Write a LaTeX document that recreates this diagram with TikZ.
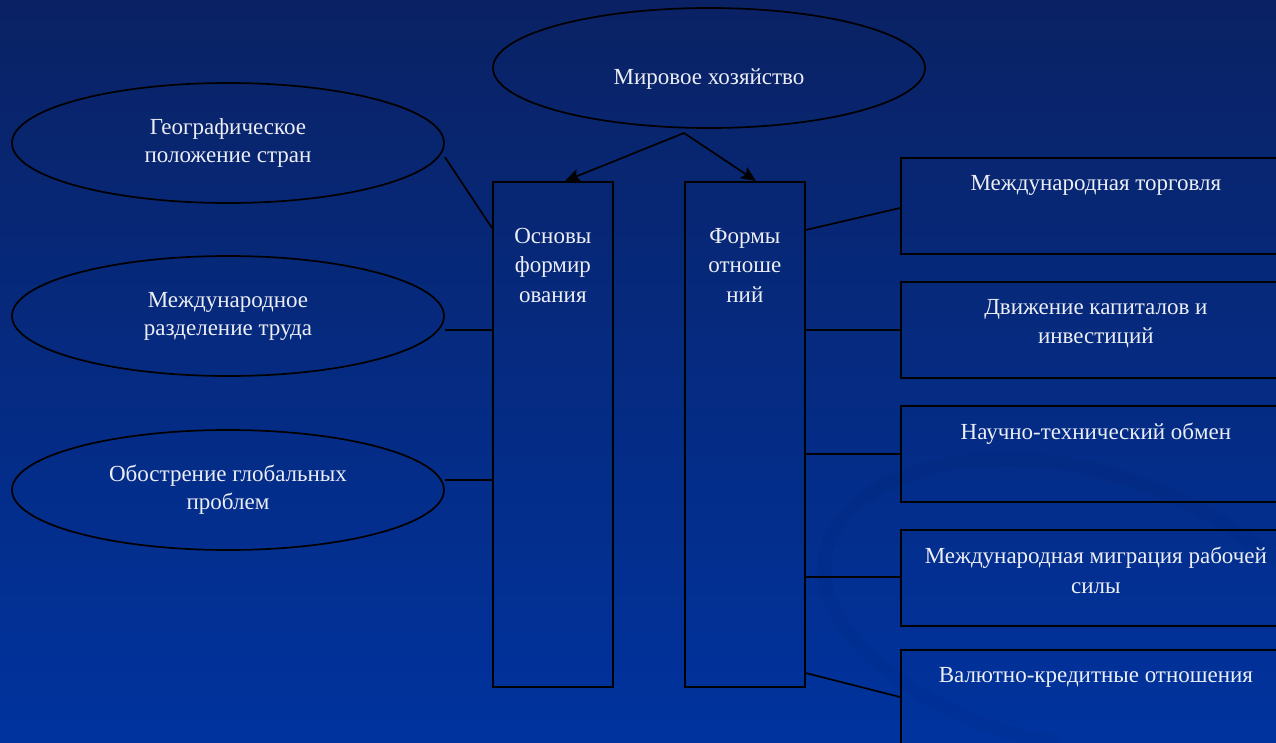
\documentclass[tikz,border=0pt]{standalone}
\usepackage{fontspec}
\setmainfont{Liberation Serif}
\usetikzlibrary{shapes.geometric,arrows.meta}
\definecolor{bgtop}{RGB}{10,34,100}
\definecolor{bgbot}{RGB}{0,51,158}
\definecolor{txt}{RGB}{236,238,245}
\tikzset{
  lw/.style={line width=1.7pt, draw=black},
  ell/.style={ellipse, lw, minimum width=432pt, minimum height=120pt, inner sep=0pt,
    align=center, text=txt, font=\fontsize{23}{28}\selectfont},
  tallbox/.style={rectangle, lw, minimum width=120pt, minimum height=505pt, anchor=north west, inner sep=0pt},
  rbox/.style={rectangle, lw, minimum width=390pt, minimum height=96pt, anchor=north west, inner sep=0pt},
  lab/.style={text=txt, align=center, inner sep=0pt, anchor=north, font=\fontsize{23}{29.5}\selectfont},
  conn/.style={lw},
  arr/.style={lw, -{Stealth[length=15pt,width=13pt,inset=3pt]}}
}
\begin{document}
\begin{tikzpicture}[x=1pt,y=-1pt]
\useasboundingbox (0,0) rectangle (1276,742);
\clip (0,0) rectangle (1276,742);
\shade[top color=bgtop, bottom color=bgbot] (0,0) rectangle (1276,742);
% faint swirl
\draw[line width=14pt, color=black, opacity=0.025] (1276,560) .. controls (1050,380) and (780,470) .. (830,600) .. controls (860,680) and (1000,742) .. (1060,742);
% top ellipse
\node[ell, label={[lab, anchor=center, yshift=-11pt]center:{Мировое хозяйство}}] (world) at (709,68) {};
\coordinate (split) at (684,133);
% left ellipses
\node[ell] (e1) at (228,143) {Географическое\\положение стран};
\node[ell] (e2) at (228,316) {Международное\\разделение труда};
\node[ell] (e3) at (228,490) {Обострение глобальных\\проблем};
% tall boxes
\node[tallbox, label={[lab, yshift=-47pt]north:{Основы\\формир\\ования}}] (b1) at (492,181) {};
\node[tallbox, label={[lab, yshift=-47pt]north:{Формы\\отноше\\ний}}] (b2) at (684,181) {};
% right boxes
\node[rbox, label={[lab, yshift=-18pt]north:{Международная торговля}}] (r1) at (900,157) {};
\node[rbox, label={[lab, yshift=-18pt]north:{Движение капиталов и\\инвестиций}}] (r2) at (900,281) {};
\node[rbox, label={[lab, yshift=-18pt]north:{Научно-технический обмен}}] (r3) at (900,405) {};
\node[rbox, label={[lab, yshift=-18pt]north:{Международная миграция рабочей\\силы}}] (r4) at (900,529) {};
\node[rbox, label={[lab, yshift=-18pt]north:{Валютно-кредитные отношения}}] (r5) at (900,649) {};
% arrows
\draw[arr] (split) -- (b1.north -| 565,181);
\draw[arr] (split) -- (b2.north -| 756,181);
% connectors left
\draw[conn] (e1.east) ++(0,14) -- (b1.west |- 0,228);
\draw[conn] (e2.east |- 0,330) -- (b1.west |- 0,330);
\draw[conn] (e3.east |- 0,480) -- (b1.west |- 0,480);
% connectors right
\draw[conn] (b2.east |- 0,230) -- (r1.west |- 0,208);
\draw[conn] (b2.east |- 0,330) -- (r2.west |- 0,330);
\draw[conn] (b2.east |- 0,454) -- (r3.west |- 0,454);
\draw[conn] (b2.east |- 0,577) -- (r4.west |- 0,577);
\draw[conn] (b2.east |- 0,673) -- (r5.west |- 0,697);
\end{tikzpicture}
\end{document}
